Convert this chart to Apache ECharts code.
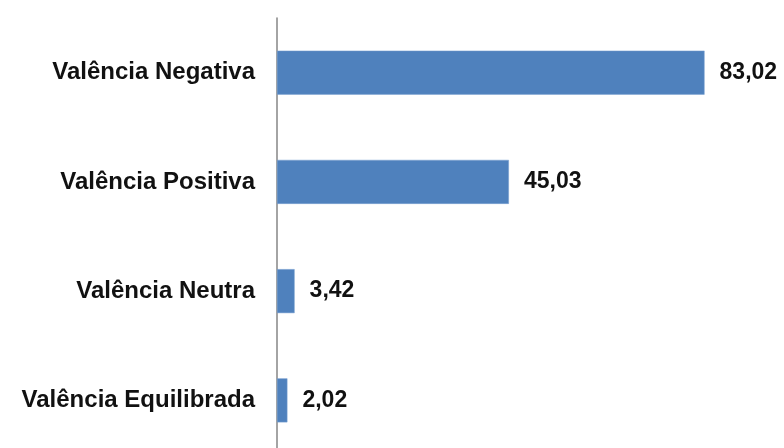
<!DOCTYPE html>
<html><head><meta charset="utf-8">
<script src="https://cdn.jsdelivr.net/npm/echarts@6/dist/echarts.min.js"></script>
<style>html,body{margin:0;padding:0;background:#fff}#c{width:784px;height:448px}</style>
</head><body><div id="c"></div>
<script>
const categories = ["Valência Negativa", "Valência Positiva", "Valência Neutra", "Valência Equilibrada"];
const values = [83.02, 45.03, 3.42, 2.02];

const chart = echarts.init(document.getElementById('c'), null, {renderer: 'canvas'});
chart.setOption({
  animation: false,
  backgroundColor: '#ffffff',
  grid: {left: 277, top: 18, width: 463.5, height: 437, containLabel: false, outerBoundsMode: 'none'},
  xAxis: {
    type: 'value', min: 0, max: 90, show: false
  },
  yAxis: {
    type: 'category', data: categories, inverse: true,
    axisLine: {show: true, lineStyle: {color: '#868686', width: 1.5}},
    axisTick: {show: false},
    axisLabel: {color: '#111', fontFamily: 'Liberation Sans, Arial, sans-serif', fontWeight: 'bold', fontSize: 24, margin: 22}
  },
  series: [{
    type: 'bar', data: values, barWidth: 44,
    itemStyle: {color: '#4f81bd', borderColor: '#7aa0d0', borderWidth: 0.5},
    label: {
      show: true, position: 'right', distance: 15, color: '#111',
      fontFamily: 'Liberation Sans, Arial, sans-serif', fontWeight: 'bold', fontSize: 23,
      formatter: p => p.value.toFixed(2).replace('.', ',')
    }
  }]
});
</script></body></html>
